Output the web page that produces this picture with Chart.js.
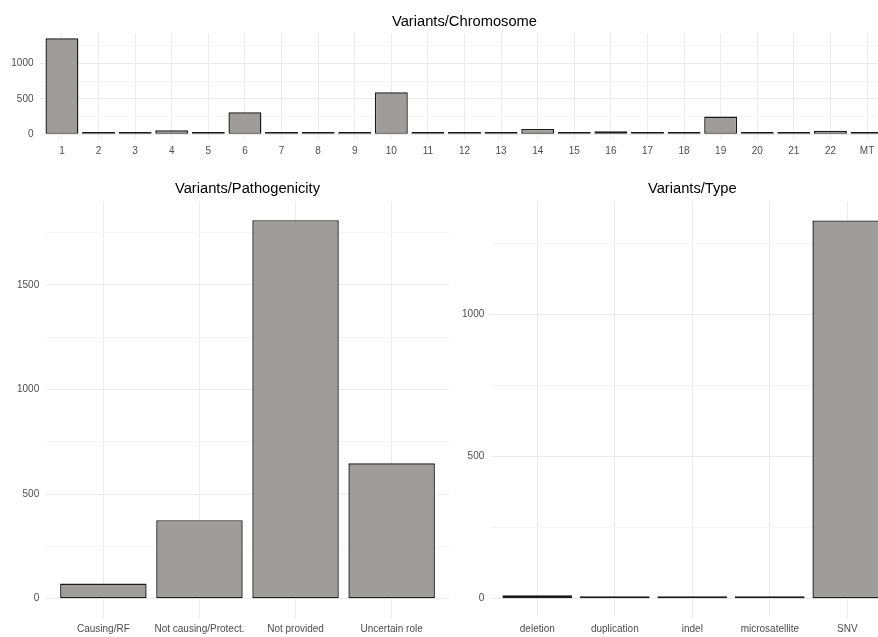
<!DOCTYPE html>
<html>
<head>
<meta charset="utf-8">
<script src="https://cdn.jsdelivr.net/npm/chart.js@4/dist/chart.umd.min.js"></script>
<style>
  html, body { margin: 0; padding: 0; background: #ffffff; overflow: hidden; width: 878px; height: 637px; }
  #wrap { position: relative; width: 878px; height: 637px; overflow: hidden; }
  canvas { position: absolute; }
</style>
</head>
<body>
<div id="wrap">
  <canvas id="cChrom" width="900" height="165" style="left:0px;top:0px;width:900px;height:165px;"></canvas>
  <canvas id="cPath" width="460" height="472" style="left:0px;top:165px;width:460px;height:472px;"></canvas>
  <canvas id="cType" width="460" height="472" style="left:445px;top:165px;width:460px;height:472px;"></canvas>
</div>
<script>
// ---- Data ----
const chromCategories = ['1','2','3','4','5','6','7','8','9','10','11','12','13','14','15','16','17','18','19','20','21','22','MT'];
const chromValues     = [1352, 10, 28, 56, 9, 310, 9, 9, 9, 591, 10, 2, 2, 75, 28, 42, 3, 3, 250, 2, 2, 51, 2];
const chromMajorTicks = [0, 500, 1000];
const chromMinorTicks = [250, 750, 1250];

const pathCategories  = ['Causing/RF', 'Not causing/Protect.', 'Not provided', 'Uncertain role'];
const pathValues      = [72, 375, 1809, 647];
const pathMajorTicks  = [0, 500, 1000, 1500];
const pathMinorTicks  = [250, 750, 1250, 1750];

const typeCategories  = ['deletion', 'duplication', 'indel', 'microsatellite', 'SNV'];
const typeValues      = [12, 1, 4, 4, 1330];
const typeMajorTicks  = [0, 500, 1000];
const typeMinorTicks  = [250, 750, 1250];

// ---- Styling ----
const FONT = "'Liberation Sans', Arial, Helvetica, sans-serif";
Chart.defaults.font.family = FONT;
const BAR_FILL = '#9e9d9b';
const BAR_EDGE = '#1a1a1a';
const GRID_MAJOR = '#ebebeb';
const GRID_MINOR = '#f4f4f4';
const TICK_COLOR = '#4d4d4d';

function makeChart(id, title, cats, vals, majorTicks, minorTicks, L) {
  const maxV = Math.max(...vals);
  const allTicks = [...majorTicks, ...minorTicks].sort((a, b) => a - b);
  return new Chart(document.getElementById(id), {
    type: 'bar',
    data: {
      datasets: [{
        data: vals.map((v, i) => ({ x: i, y: v })),
        backgroundColor: BAR_FILL,
        borderColor: BAR_EDGE,
        borderWidth: 1.4,
        borderSkipped: false,
        barPercentage: 0.9,
        categoryPercentage: 1.0,
        minBarLength: 2.4
      }]
    },
    options: {
      responsive: false,
      animation: false,
      devicePixelRatio: 1,
      layout: { padding: { left: 0, top: 0, right: L.padRight, bottom: 0 } },
      plugins: {
        legend: { display: false },
        tooltip: { enabled: false },
        title: {
          display: true,
          text: title,
          fullSize: false,
          color: '#000000',
          font: { family: FONT, size: 14.7, weight: 'normal', lineHeight: 1.2 },
          padding: { top: L.titleTop, bottom: L.titleBottom }
        }
      },
      scales: {
        x: {
          type: 'linear',
          min: -0.6,
          max: cats.length - 0.4,
          offset: false,
          border: { display: false },
          grid: { color: GRID_MAJOR, lineWidth: 1, drawTicks: false, offset: false },
          afterBuildTicks: (s) => { s.ticks = cats.map((c, i) => ({ value: i })); },
          afterFit: (s) => { s.height = L.xHeight; },
          ticks: {
            autoSkip: false,
            maxRotation: 0,
            minRotation: 0,
            padding: 6,
            color: TICK_COLOR,
            font: { family: FONT, size: 10 },
            callback: (v) => cats[v] !== undefined ? cats[v] : ''
          }
        },
        y: {
          type: 'linear',
          min: -0.05 * maxV,
          max: 1.05 * maxV,
          border: { display: false },
          grid: {
            drawTicks: false,
            lineWidth: 1,
            color: (ctx) => (ctx.tick && majorTicks.includes(ctx.tick.value)) ? GRID_MAJOR : GRID_MINOR
          },
          afterBuildTicks: (s) => { s.ticks = allTicks.map(v => ({ value: v })); },
          afterFit: (s) => { s.width = L.yWidth; },
          ticks: {
            padding: 6.5,
            color: TICK_COLOR,
            font: { family: FONT, size: 10 },
            callback: (v) => majorTicks.includes(v) ? String(v) : ''
          }
        }
      }
    }
  });
}

makeChart('cChrom', 'Variants/Chromosome', chromCategories, chromValues, chromMajorTicks, chromMinorTicks,
  { padRight: 11, yWidth: 40, xHeight: 25.9, titleTop: 13.2, titleBottom: 2.66 });
makeChart('cPath', 'Variants/Pathogenicity', pathCategories, pathValues, pathMajorTicks, pathMinorTicks,
  { padRight: 10.7, yWidth: 45.7, xHeight: 19.4, titleTop: 15.2, titleBottom: 3.46 });
makeChart('cType', 'Variants/Type', typeCategories, typeValues, typeMajorTicks, typeMinorTicks,
  { padRight: 11.2, yWidth: 45.8, xHeight: 19.4, titleTop: 15.2, titleBottom: 3.66 });
</script>
</body>
</html>
